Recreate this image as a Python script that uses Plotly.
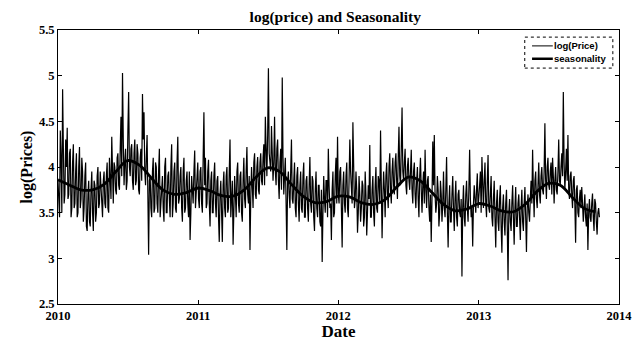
import pandas as pd
import plotly.graph_objects as go

# ---- data ----
# log(Price) values sampled every 4 days (a) and the in-between days (b)
y2010a = [3.85, 3.45, 4.10, 4.85, 3.60, 4.30, 4.43, 3.70, 4.20, 3.55,
          4.25, 3.60, 4.15, 3.50, 4.22, 3.65, 3.95, 3.55, 4.05, 3.30,
          3.85, 3.35, 3.95, 3.30, 3.80, 3.50, 4.00, 3.60, 3.75, 3.45,
          3.95, 3.55, 4.05, 3.50, 3.90, 4.33, 3.60, 4.00, 3.70, 4.15,
          3.75, 4.55, 5.03, 3.80, 4.20, 3.85, 4.82, 3.90, 4.25, 3.75,
          4.30, 3.85, 4.15, 3.70, 4.20, 4.80, 4.60, 3.80, 4.35, 3.04,
          3.90, 3.45, 4.10, 3.55, 4.00, 3.50, 4.20, 3.60, 3.90, 3.40,
          4.10, 3.50, 3.95, 3.45, 4.25, 3.60, 4.05, 3.50, 4.33, 3.65,
          4.00, 3.40, 4.10, 3.55, 3.95, 3.45, 3.20, 3.90, 3.60, 4.18,
          3.70]
y2011a = [4.05, 3.55, 4.00, 3.50, 4.60, 4.10, 3.60, 4.08, 3.35, 3.95,
          3.50, 4.05, 3.45, 3.90, 3.18, 3.85, 3.18, 3.95, 3.45, 4.00,
          3.55, 4.30, 3.60, 3.15, 3.90, 3.45, 4.05, 3.50, 3.95, 3.40,
          4.10, 3.55, 4.22, 3.60, 3.09, 4.00, 3.55, 4.15, 3.65, 4.11,
          3.70, 4.15, 3.80, 4.25, 4.55, 3.90, 5.08, 4.00, 4.45, 3.85,
          4.55, 3.80, 4.30, 3.65, 4.20, 4.98, 3.70, 4.10, 3.09, 3.95,
          3.55, 4.30, 3.60, 4.05, 3.45, 4.00, 3.40, 3.95, 3.50, 4.05,
          3.45, 3.90, 3.40, 4.11, 3.50, 3.85, 3.30, 3.95, 3.45, 3.80,
          3.35, 2.96, 3.90, 3.50, 3.85, 4.20, 3.55, 3.20, 3.95, 3.50,
          4.10]
y2012a = [4.33, 3.60, 4.00, 3.12, 3.95, 3.50, 4.05, 3.45, 4.30, 3.70,
          4.49, 3.55, 3.95, 3.28, 3.90, 3.40, 3.85, 3.35, 3.95, 3.25,
          3.80, 4.24, 3.45, 3.90, 3.35, 4.00, 3.50, 3.85, 4.40, 3.22,
          3.95, 3.45, 4.05, 3.55, 4.15, 3.60, 4.10, 3.70, 4.15, 3.65,
          4.44, 3.80, 4.65, 3.85, 4.20, 3.70, 4.10, 3.75, 4.19, 3.60,
          4.05, 3.55, 4.00, 3.45, 4.10, 3.50, 3.95, 4.19, 3.55, 3.90,
          3.40, 3.18, 4.28, 4.35, 3.50, 3.90, 3.35, 3.85, 3.40, 3.95,
          3.45, 4.11, 3.12, 3.80, 3.40, 3.90, 3.30, 3.85, 3.35, 3.75,
          3.45, 2.80, 3.80, 3.35, 3.85, 3.40, 4.19, 3.45, 3.13, 3.80,
          3.50, 3.93]
y2013a = [3.65, 3.95, 4.11, 3.55, 4.05, 3.45, 4.13, 3.50, 3.90, 3.35,
          3.85, 3.12, 3.75, 3.30, 3.80, 3.06, 3.70, 3.25, 3.75, 2.76,
          3.65, 3.30, 3.80, 3.15, 3.78, 3.35, 3.70, 3.20, 3.75, 3.30,
          3.78, 3.07, 3.70, 3.40, 3.85, 4.19, 3.45, 3.95, 3.55, 4.05,
          3.60, 4.00, 3.70, 4.48, 3.65, 4.10, 3.75, 4.05, 4.10, 3.60,
          4.00, 3.70, 4.30, 3.80, 4.15, 4.82, 3.75, 4.20, 4.35, 3.65,
          3.95, 3.55, 3.90, 3.17, 3.80, 3.45, 3.75, 3.78, 3.40, 3.70,
          3.35, 3.09, 3.65, 3.40, 3.71, 3.30, 3.60, 3.26, 3.55]

y2010b = [3.60, 4.40, 3.50, 4.20, 3.70, 4.00, 3.65, 4.15, 3.45, 4.05,
          3.55, 3.95, 3.45, 4.00, 3.55, 4.10, 3.40, 3.90, 3.35, 3.70,
          3.40, 3.75, 3.50, 3.85, 3.40, 3.90, 3.55, 3.95, 3.50, 3.85,
          3.60, 3.90, 3.55, 4.10, 3.65, 3.80, 4.05, 3.75, 4.10, 3.80,
          4.20, 3.90, 4.30, 4.05, 3.75, 4.40, 4.00, 4.20, 3.85, 4.15,
          3.80, 4.25, 3.75, 4.10, 3.85, 4.30, 3.95, 4.10, 3.70, 3.85,
          3.55, 3.95, 3.50, 4.05, 3.60, 3.95, 3.45, 3.85, 3.55, 4.00,
          3.50, 3.90, 3.65, 4.00, 3.45, 3.95, 3.55, 4.05, 3.60, 3.90,
          3.55, 3.95, 3.50, 3.85, 3.60, 3.95, 3.50, 3.75, 3.95, 3.55,
          3.95]
y2011b = [3.65, 3.95, 3.60, 4.10, 3.80, 3.55, 3.95, 3.60, 3.85, 3.50,
          3.90, 3.60, 3.85, 3.45, 3.70, 3.50, 3.80, 3.55, 3.90, 3.50,
          3.95, 3.45, 3.85, 3.55, 3.70, 3.95, 3.60, 3.90, 3.50, 3.85,
          3.65, 3.95, 3.70, 3.90, 3.65, 3.80, 4.05, 3.70, 4.00, 3.75,
          4.05, 3.85, 4.10, 3.80, 4.20, 4.35, 4.15, 3.95, 4.20, 4.05,
          3.95, 4.20, 3.85, 4.05, 3.75, 4.10, 3.90, 3.60, 3.85, 3.70,
          3.95, 3.65, 3.85, 3.55, 3.90, 3.60, 3.80, 3.55, 3.90, 3.45,
          3.85, 3.55, 3.80, 3.60, 3.90, 3.45, 3.75, 3.55, 3.80, 3.40,
          3.75, 3.50, 3.65, 3.85, 3.45, 3.80, 3.60, 3.75, 3.45, 3.90,
          3.60]
y2012b = [3.70, 3.95, 3.55, 3.80, 3.60, 3.90, 3.55, 3.85, 3.95, 3.60,
          3.85, 3.65, 3.75, 3.50, 3.70, 3.55, 3.80, 3.45, 3.70, 3.50,
          3.65, 3.45, 3.75, 3.50, 3.80, 3.55, 3.90, 3.60, 3.80, 3.65,
          3.75, 3.90, 3.70, 4.00, 3.75, 3.95, 3.80, 4.05, 3.85, 4.10,
          3.90, 4.20, 3.95, 4.05, 3.80, 4.00, 3.85, 3.95, 3.75, 3.95,
          3.70, 3.85, 3.65, 3.90, 3.75, 3.80, 3.60, 3.75, 3.85, 3.55,
          3.70, 3.65, 3.80, 3.70, 3.60, 3.75, 3.50, 3.70, 3.60, 3.55,
          3.75, 3.50, 3.60, 3.40, 3.70, 3.55, 3.65, 3.45, 3.70, 3.50,
          3.65, 3.55, 3.45, 3.70, 3.55, 3.75, 3.65, 3.55, 3.60, 3.65,
          3.75, 3.55]
y2013b = [3.80, 3.50, 3.75, 3.85, 3.60, 3.85, 3.55, 3.70, 3.45, 3.65,
          3.45, 3.60, 3.40, 3.65, 3.35, 3.55, 3.40, 3.60, 3.35, 3.50,
          3.40, 3.60, 3.45, 3.55, 3.35, 3.60, 3.45, 3.55, 3.40, 3.60,
          3.45, 3.55, 3.50, 3.65, 3.60, 3.75, 3.85, 3.65, 3.80, 3.70,
          3.90, 3.75, 3.95, 3.85, 4.00, 3.80, 3.95, 3.70, 3.90, 3.85,
          3.75, 3.95, 3.85, 4.00, 3.90, 4.05, 3.95, 3.85, 3.75, 3.90,
          3.70, 3.85, 3.60, 3.75, 3.50, 3.65, 3.55, 3.60, 3.55, 3.45,
          3.60, 3.50, 3.45, 3.60, 3.45, 3.65, 3.40, 3.50, 3.45]

series_a = y2010a + y2011a + y2012a + y2013a
series_b = y2010b + y2011b + y2012b + y2013b
dates_a = pd.date_range("2010-01-01", periods=len(series_a), freq="4D")
dates_b = pd.date_range("2010-01-03", periods=len(series_b), freq="4D")
log_price = []
price_dates = []
for da, va, db, vb in zip(dates_a, series_a, dates_b, series_b):
    price_dates += [da, db]
    log_price += [va, vb]

season_values = [3.86, 3.80, 3.75, 3.75, 3.81, 3.95, 4.07, 4.02, 3.88, 3.75, 3.70, 3.72,
                 3.77, 3.74, 3.69, 3.68, 3.75, 3.89, 3.99, 3.95, 3.81, 3.68, 3.61, 3.62,
                 3.68, 3.67, 3.61, 3.59, 3.64, 3.78, 3.89, 3.85, 3.72, 3.59, 3.52, 3.54,
                 3.60, 3.57, 3.52, 3.51, 3.59, 3.73, 3.82, 3.80, 3.67, 3.55, 3.51]
season_dates = pd.date_range("2010-01-01", periods=len(season_values), freq="MS")

year_ticks = ["2010-01-01", "2011-01-01", "2012-01-01", "2013-01-01", "2014-01-01"]
year_labels = ["2010", "2011", "2012", "2013", "2014"]
y_ticks = [2.5, 3, 3.5, 4, 4.5, 5, 5.5]
y_labels = ["2.5", "3", "3.5", "4", "4.5", "5", "5.5"]
legend_names = ["log(Price)", "seasonality"]

SERIF = "Liberation Serif"
SANS = "Liberation Sans"

fig = go.Figure()
fig.add_trace(go.Scatter(x=price_dates, y=log_price, mode="lines", name=legend_names[0],
                         line=dict(color="black", width=1.2)))
fig.add_trace(go.Scatter(x=season_dates, y=season_values, mode="lines", name=legend_names[1],
                         line=dict(color="black", width=2.8, shape="spline", smoothing=1.0)))

axis_common = dict(showline=True, linecolor="black", linewidth=1, mirror="ticks",
                   ticks="inside", ticklen=4, tickcolor="black", showgrid=False,
                   zeroline=False, automargin=False,
                   tickfont=dict(family=SERIF, size=12.5, color="black", weight="bold"))

# legend drawn as a box with samples (paper coordinates of the plot area)
shapes = [
    dict(type="rect", xref="paper", yref="paper", x0=0.832, x1=0.989, y0=0.861, y1=0.974,
         line=dict(color="black", width=1, dash="dot"), fillcolor="white", layer="above"),
    dict(type="line", xref="paper", yref="paper", x0=0.845, x1=0.882, y0=0.942, y1=0.942,
         line=dict(color="black", width=1), layer="above"),
    dict(type="line", xref="paper", yref="paper", x0=0.845, x1=0.882, y0=0.895, y1=0.895,
         line=dict(color="black", width=2.5), layer="above"),
]
annotations = [
    dict(xref="paper", yref="paper", x=0.882, y=0.942, xanchor="left", yanchor="middle",
         text="<b>" + legend_names[0] + "</b>", showarrow=False, borderpad=0,
         font=dict(family=SANS, size=9.5, color="black")),
    dict(xref="paper", yref="paper", x=0.882, y=0.895, xanchor="left", yanchor="middle",
         text="<b>" + legend_names[1] + "</b>", showarrow=False, borderpad=0,
         font=dict(family=SANS, size=9.5, color="black")),
]

fig.update_layout(
    width=635, height=341,
    margin=dict(l=58, r=16, t=30, b=37),
    paper_bgcolor="white", plot_bgcolor="white",
    title=dict(text="<b>log(price) and Seasonality</b>", x=0.528, xanchor="center",
               y=0.95, yanchor="middle", font=dict(family=SERIF, size=15.5, color="black")),
    xaxis=dict(range=["2010-01-01", "2014-01-01"], tickvals=year_ticks, ticktext=year_labels,
               title=dict(text="<b>Date</b>", font=dict(family=SERIF, size=17, color="black"),
                          standoff=2),
               **axis_common),
    yaxis=dict(range=[2.5, 5.5], tickvals=y_ticks, ticktext=y_labels,
               title=dict(text="<b>log(Prices)</b>", font=dict(family=SERIF, size=16, color="black"),
                          standoff=2),
               **axis_common),
    shapes=shapes,
    annotations=annotations,
    showlegend=False,
)

fig.write_html("out.html")
